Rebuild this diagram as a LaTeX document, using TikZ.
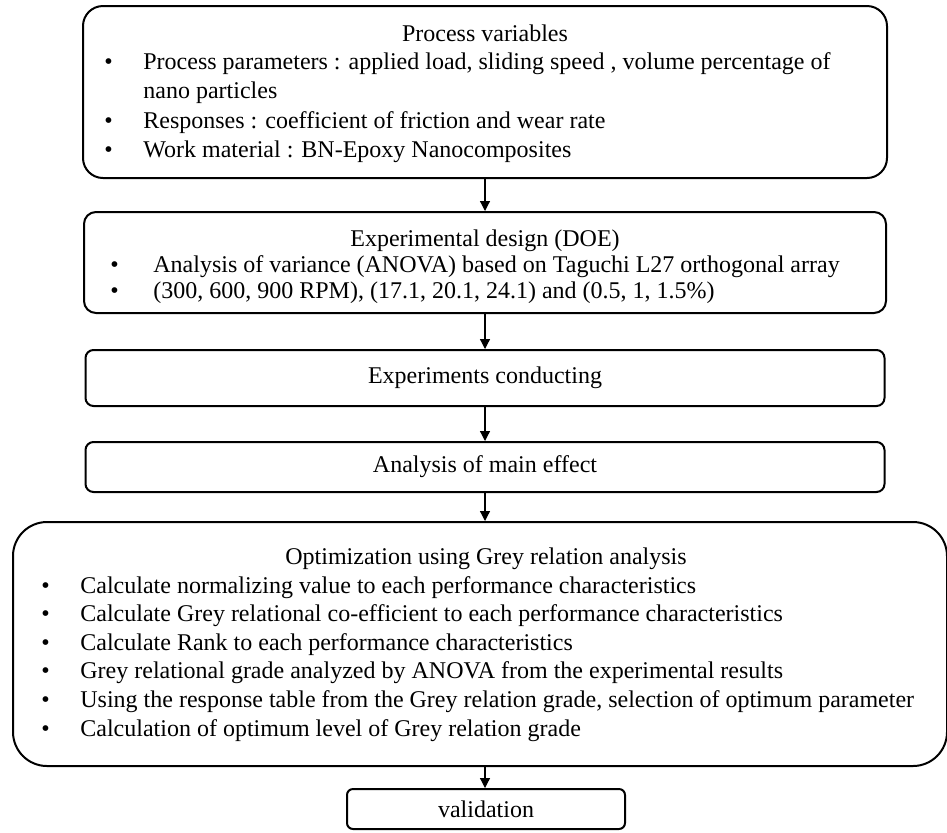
\documentclass[tikz,border=0pt]{standalone}
\usepackage{fontspec}
\setmainfont{Liberation Serif}
\usetikzlibrary{arrows.meta}
\newcommand{\bul}{\textbullet}

\tikzset{
  stage/.style={draw, line width=1pt, minimum width=399.5pt, font=\fontsize{12}{14.5}\selectfont},
  arr/.style={-{Triangle[length=5pt,width=5pt]}, line width=0.6pt},
  txt/.style={inner sep=0pt, font=\fontsize{12}{14.5}\selectfont},
}

\begin{document}
\begin{tikzpicture}[x=0.5pt,y=-0.5pt]
            \useasboundingbox (0,0) rectangle (947,832);
            % the six stages
            \node[stage, minimum width=402pt, minimum height=86pt, rounded corners=10pt] (vars) at (485,92) {};
            \node[stage, minimum width=401pt, minimum height=50.5pt, rounded corners=6pt] (doe) at (485,262.5) {};
            \node[stage, minimum height=28pt, rounded corners=4pt] (expt) at (485,378) {Experiments conducting};
            \node[stage, minimum height=25pt, rounded corners=4pt] (effect) at (485,467) {Analysis of main effect};
            \node[stage, minimum width=467pt, minimum height=122pt, rounded corners=17pt] (grey) at (480,644) {};
            \node[stage, minimum width=139pt, minimum height=20pt, rounded corners=3pt] (valid) at (486,809) {validation};
            % texts in the big boxes
            \node[txt, anchor=base] (varsT) at (485,41) {Process variables};
            \node[txt, anchor=base west, font=\fontsize{12}{14.8}\selectfont] (varsL) at (104,69) {\begin{tabular}[t]{@{}p{19.5pt}@{}l@{}}
                \bul & Process parameters : applied load, sliding speed , volume percentage of\\
                     & nano particles\\
                \bul & Responses : coefficient of friction and wear rate\\
                \bul & Work material : BN-Epoxy Nanocomposites
            \end{tabular}};
            \node[txt, anchor=base] (doeT) at (485,246) {Experimental design (DOE)};
            \node[txt, anchor=base west, font=\fontsize{12}{13}\selectfont] (doeL) at (110,272) {\begin{tabular}[t]{@{}p{21.5pt}@{}l@{}}
                \bul & Analysis of variance (ANOVA) based on Taguchi L27 orthogonal array\\
                \bul & (300, 600, 900 RPM), (17.1, 20.1, 24.1) and (0.5, 1, 1.5\%)
            \end{tabular}};
            \node[txt, anchor=base] (greyT) at (486,564) {Optimization using Grey relation analysis};
            \node[txt, anchor=base west, font=\fontsize{12}{14.3}\selectfont] (greyL) at (41,593) {\begin{tabular}[t]{@{}p{19.5pt}@{}l@{}}
                \bul & Calculate normalizing value to each performance characteristics\\
                \bul & Calculate Grey relational co-efficient to each performance characteristics\\
                \bul & Calculate Rank to each performance characteristics\\
                \bul & Grey relational grade analyzed by ANOVA from the experimental results\\
                \bul & Using the response table from the Grey relation grade, selection of optimum parameter\\
                \bul & Calculation of optimum level of Grey relation grade
            \end{tabular}};
            % arrows
            \draw[arr] (vars.south) -- (doe.north);
            \draw[arr] (doe.south) -- (expt.north);
            \draw[arr] (expt.south) -- (effect.north);
            \draw[arr] (effect.south) -- (effect.south |- grey.north);
            \draw[arr] (grey.south -| effect.south) -- (valid.north -| effect.south);
        \end{tikzpicture}
\end{document}
